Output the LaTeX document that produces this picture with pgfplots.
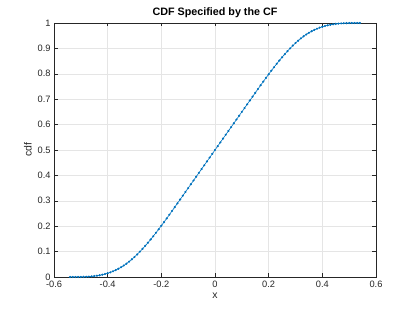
\documentclass[border=0pt]{standalone}
\usepackage{fontspec}
\setmainfont{Liberation Sans}
\usepackage{pgfplots}
\pgfplotsset{compat=1.18}
\usepackage{pgfplotstable}
\definecolor{mblue}{rgb}{0,0.447,0.741}
\definecolor{axgray}{rgb}{0.15,0.15,0.15}
\pgfplotstableread{
x y
-0.54 0
-0.53 0
-0.52 0
-0.51 0.0001
-0.50 0.0002
-0.49 0.0005
-0.48 0.0009
-0.47 0.0016
-0.46 0.0025
-0.45 0.0036
-0.44 0.0051
-0.43 0.0069
-0.42 0.0091
-0.41 0.0117
-0.40 0.0148
-0.39 0.0184
-0.38 0.0225
-0.37 0.0272
-0.36 0.0325
-0.35 0.0385
-0.34 0.0452
-0.33 0.0525
-0.32 0.0607
-0.31 0.0695
-0.30 0.0789
-0.29 0.0890
-0.28 0.0997
-0.27 0.1110
-0.26 0.1227
-0.25 0.1349
-0.24 0.1476
-0.23 0.1606
-0.22 0.1741
-0.21 0.1878
-0.20 0.2019
-0.19 0.2161
-0.18 0.2306
-0.17 0.2453
-0.16 0.2601
-0.15 0.2750
-0.14 0.2900
-0.13 0.3050
-0.12 0.3200
-0.11 0.3350
-0.10 0.3500
-0.09 0.3650
-0.08 0.3800
-0.07 0.3950
-0.06 0.4100
-0.05 0.4250
-0.04 0.4400
-0.03 0.4550
-0.02 0.4700
-0.01 0.4850
0.00 0.5000
0.01 0.5150
0.02 0.5300
0.03 0.5450
0.04 0.5600
0.05 0.5750
0.06 0.5900
0.07 0.6050
0.08 0.6200
0.09 0.6350
0.10 0.6500
0.11 0.6650
0.12 0.6800
0.13 0.6950
0.14 0.7100
0.15 0.7250
0.16 0.7399
0.17 0.7547
0.18 0.7694
0.19 0.7839
0.20 0.7981
0.21 0.8122
0.22 0.8259
0.23 0.8394
0.24 0.8524
0.25 0.8651
0.26 0.8773
0.27 0.8890
0.28 0.9003
0.29 0.9110
0.30 0.9211
0.31 0.9305
0.32 0.9393
0.33 0.9475
0.34 0.9548
0.35 0.9615
0.36 0.9675
0.37 0.9728
0.38 0.9775
0.39 0.9816
0.40 0.9852
0.41 0.9883
0.42 0.9909
0.43 0.9931
0.44 0.9949
0.45 0.9964
0.46 0.9975
0.47 0.9984
0.48 0.9991
0.49 0.9995
0.50 0.9998
0.51 0.9999
0.52 1.0000
0.53 1.0000
0.54 1.0000
}\cdfdata
\begin{document}
\begin{tikzpicture}
\begin{axis}[
  name=ax,
  scale only axis,
  width=322bp, height=254bp,
  xmin=-0.6, xmax=0.6, ymin=0, ymax=1,
  xtick={-0.6,-0.4,-0.2,0,0.2,0.4,0.6},
  ytick={0,0.1,0.2,0.3,0.4,0.5,0.6,0.7,0.8,0.9,1},
  xticklabels={-0.6,-0.4,-0.2,0,0.2,0.4,0.6},
  yticklabels={0,0.1,0.2,0.3,0.4,0.5,0.6,0.7,0.8,0.9,1},
  tick align=inside,
  tick pos=both,
  major tick length=3.5bp,
  grid=major,
  major grid style={color=black!10, line width=0.5bp},
  axis line style={color=axgray, line width=0.5bp},
  every tick/.style={color=axgray, line width=0.5bp},
  tick label style={font=\fontsize{9.3}{11}\selectfont, color=axgray},
  xticklabel style={yshift=-1bp},
  title={\textbf{CDF Specified by the CF}},
  title style={font=\fontsize{10.8}{12}\selectfont, yshift=-4bp},
  xlabel={x},
  ylabel={cdf},
  label style={font=\fontsize{10.5}{12}\selectfont, color=axgray},
  xlabel style={yshift=2bp},
  ylabel style={yshift=-1bp},
]
\addplot[color=mblue, line width=0.6bp, mark=*, mark size=0.75bp, mark options={fill=mblue, draw=mblue}] table[x=x,y=y] {\cdfdata};
\end{axis}
\path[use as bounding box] (ax.south west) ++(-54bp,-35bp) rectangle ++(415bp,312bp);
\end{tikzpicture}
\end{document}
